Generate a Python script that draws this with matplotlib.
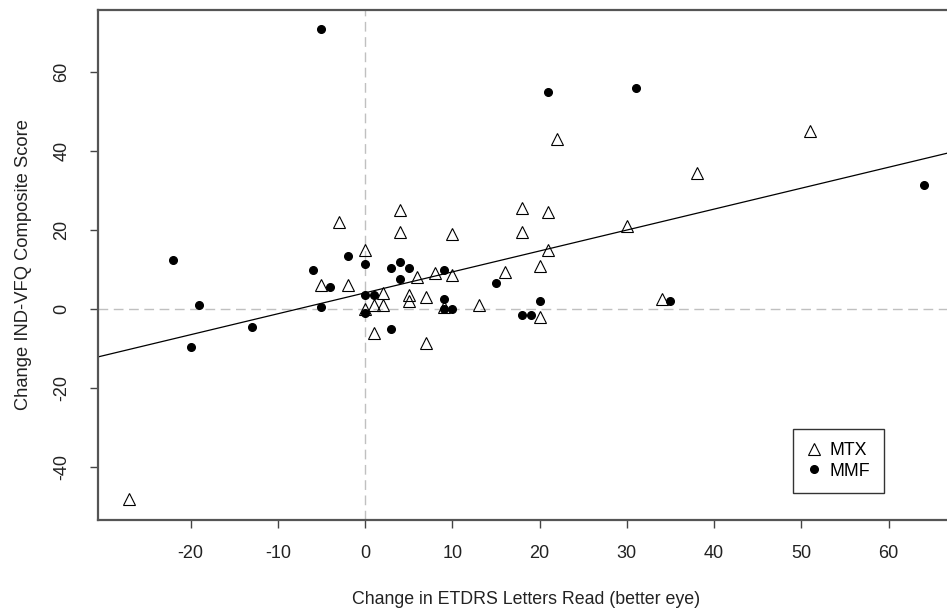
import matplotlib
matplotlib.use('Agg')
from matplotlib import pyplot as plt

plt.rcParams['font.family'] = ['Liberation Sans', 'DejaVu Sans']

# MTX patients (open triangles)
mtx_x = [-27, -5, -3, -2, 0, 0, 1, 1, 2, 2, 4, 4, 5, 5, 6, 7, 7, 8, 9, 10,
         10, 13, 16, 18, 18, 20, 20, 21, 21, 22, 30, 34, 38, 51]
mtx_y = [-48, 6, 22, 6, 15, 0, 1, -6, 4, 1, 25, 19.5, 3.5, 2, 8, 3, -8.5, 9,
         0.5, 19, 8.5, 1, 9.5, 25.5, 19.5, 11, -2, 24.5, 15, 43, 21, 2.5, 34.5, 45]

# MMF patients (filled circles)
mmf_x = [-22, -20, -19, -13, -6, -5, -5, -4, -2, 0, 0, 0, 1, 3, 3, 4, 4, 5,
         9, 9, 9, 10, 15, 18, 19, 20, 21, 31, 35, 64]
mmf_y = [12.5, -9.5, 1, -4.5, 10, 71, 0.5, 5.5, 13.5, 11.5, 3.5, -1, 3.5, 10.5,
         -5, 12, 7.5, 10.5, 10, 2.5, 0, 0, 6.5, -1.5, -1.5, 2, 55, 56, 2, 31.5]

# fitted line
fit_intercept = 4.1
fit_slope = 0.53

xticks = [-20, -10, 0, 10, 20, 30, 40, 50, 60]
yticks = [-40, -20, 0, 20, 40, 60]

fig = plt.figure(figsize=(9.47, 6.14), dpi=100)
ax = fig.add_axes([98 / 947, 94 / 614, 857 / 947, 510 / 614])

ax.axhline(0, color='#c0c0c0', lw=1, dashes=(7, 4), zorder=1)
ax.axvline(0, color='#c0c0c0', lw=1, dashes=(7, 4), zorder=1)
ax.axline((0, fit_intercept), slope=fit_slope, color='black', lw=0.9, zorder=2)

ax.plot(mtx_x, mtx_y, linestyle='none', marker='^', ms=8.5, mfc='none',
        mec='black', mew=0.8, label='MTX', zorder=3)
ax.plot(mmf_x, mmf_y, linestyle='none', marker='o', ms=5.5, mfc='black',
        mec='black', label='MMF', zorder=3)

ax.set_xlim(-30.6, 67.6)
ax.set_ylim(-53.4, 75.7)
ax.set_xticks(xticks)
ax.set_yticks(yticks)
ax.set_xticklabels([str(v) for v in xticks], fontsize=13)
ax.set_yticklabels([str(v) for v in yticks], fontsize=13, rotation=90, va='center')
ax.tick_params(axis='x', length=6, width=1, color='#444444', pad=12, labelcolor='#222222')
ax.tick_params(axis='y', length=6, width=1, color='#444444', pad=14, labelcolor='#222222')

for side in ['left', 'top', 'bottom', 'right']:
    ax.spines[side].set_color('#555555')
    ax.spines[side].set_linewidth(1.6)

ax.set_xlabel('Change in ETDRS Letters Read (better eye)', fontsize=12.8, color='#222222', labelpad=21)
ax.set_ylabel('Change IND-VFQ Composite Score', fontsize=13.2, color='#222222', labelpad=15)

leg = ax.legend(loc='lower right', bbox_to_anchor=(0.917, 0.053), fontsize=12.8,
                fancybox=False, framealpha=1, edgecolor='#333333', borderaxespad=0,
                handletextpad=0.45, handlelength=0.9, borderpad=0.75, labelspacing=0.2)
leg.get_frame().set_linewidth(1.0)

plt.savefig('out.png', dpi=100)
